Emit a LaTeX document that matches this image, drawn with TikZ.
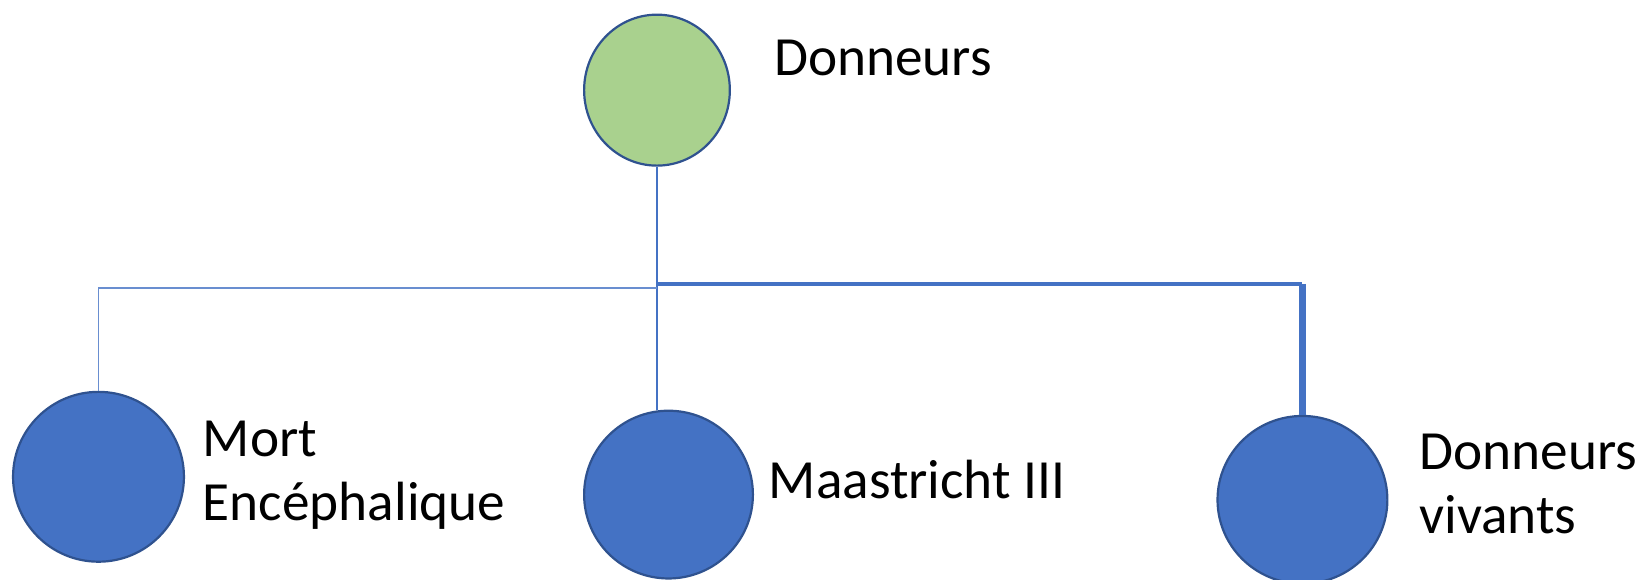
\documentclass[tikz,border=0pt]{standalone}
\usepackage{fontspec}
\setmainfont{Carlito}
\usetikzlibrary{shapes.geometric}
\definecolor{leaf}{HTML}{A9D18E}
\definecolor{bluefill}{HTML}{4472C4}
\definecolor{blueline}{HTML}{2F528F}
\begin{document}
\begin{tikzpicture}[x=0.01cm,y=-0.01cm,
  disc/.style={ellipse,draw=blueline,line width=0.6pt,inner sep=0pt},
  lbl/.style={anchor=base west,align=left,inner sep=0pt,font=\fontsize{15}{17.4}\selectfont}]
\useasboundingbox (0,0) rectangle (1568,553);
\node[disc,fill=leaf,minimum width=1.39cm,minimum height=1.44cm](don) at(627,86){};
\node[disc,fill=bluefill,minimum width=1.63cm,minimum height=1.62cm](mort) at(94,455){};
\node[disc,fill=bluefill,minimum width=1.61cm,minimum height=1.60cm](maas) at(638,472){};
\node[disc,fill=bluefill,minimum width=1.62cm,minimum height=1.60cm](viv) at(1243,477){};
\node[lbl](tdon) at(738,72){Donneurs};
\node[lbl](tmort) at(193,497){Mort\\Encéphalique};
\node[lbl](tmaas) at(733,476){Maastricht III};
\node[lbl](tviv) at(1354,509){Donneurs\\vivants};
\coordinate (jl) at (627,275);
\coordinate (jr) at (627,271);
\draw[bluefill,line width=0.4pt](don.south)--(don.south |- maas.north);
\draw[bluefill!80,line width=0.5pt](jl)-|(mort.north);
\draw[bluefill,line width=0.9pt](jr)--(jr -| viv.north);
\draw[bluefill,line width=1.8pt](jr -| viv.north)--(viv.north);
\end{tikzpicture}
\end{document}
